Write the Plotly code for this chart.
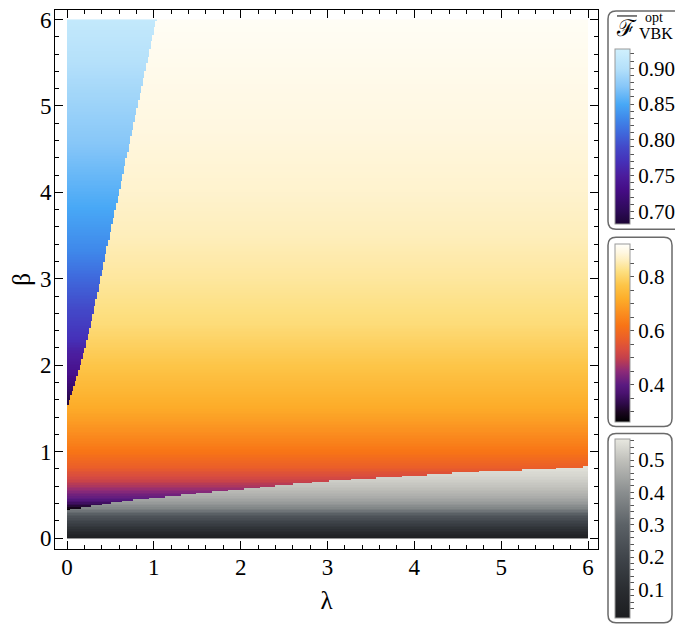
import numpy as np
import plotly.graph_objects as go

# boundary of the upper-left (blue) region: lambda reached at each beta
blue_edge_beta = [1.52, 1.78, 2.17, 2.55, 3.0, 3.5, 4.0, 4.55, 5.31, 6.0]
blue_edge_lam = [0.0, 0.09, 0.20, 0.29, 0.385, 0.49, 0.60, 0.715, 0.88, 1.03]

# boundary of the bottom (gray) region: beta reached at each lambda
gray_edge_lam = [0.0, 0.71, 1.51, 2.30, 3.09, 3.89, 4.68, 5.47, 6.0]
gray_edge_beta = [0.33, 0.44, 0.52, 0.60, 0.67, 0.72, 0.77, 0.80, 0.83]

# fidelity profiles along beta
beta_blue = [1.52, 1.56, 1.71, 1.90, 2.17, 2.30, 2.55, 3.0, 3.32, 3.82, 4.55, 5.31, 6.0]
f_blue = [0.685, 0.69, 0.71, 0.735, 0.755, 0.77, 0.785, 0.81, 0.83, 0.85, 0.875, 0.895, 0.915]

beta_mid = [0.30, 0.34, 0.38, 0.46, 0.55, 0.67, 0.82, 1.0, 1.24, 1.5, 2.0, 2.5, 3.0, 3.5, 4.0, 5.0, 6.0]
f_mid = [0.265, 0.27, 0.33, 0.40, 0.45, 0.51, 0.57, 0.62, 0.67, 0.715, 0.77, 0.815, 0.84, 0.86, 0.875, 0.895, 0.915]

beta_gray = [0.0, 0.05, 0.1, 0.15, 0.2, 0.25, 0.3, 0.35, 0.4, 0.5, 0.6, 0.7, 0.8, 0.86]
f_gray = [0.02, 0.06, 0.11, 0.16, 0.20, 0.25, 0.32, 0.38, 0.42, 0.47, 0.505, 0.53, 0.55, 0.56]

x_ticks = [0, 1, 2, 3, 4, 5, 6]
y_ticks = [0, 1, 2, 3, 4, 5, 6]

cb_blue_major = [0.70, 0.75, 0.80, 0.85, 0.90]
cb_mid_major = [0.4, 0.6, 0.8]
cb_gray_major = [0.1, 0.2, 0.3, 0.4, 0.5]

BLUE_SCALE = [
    (0.683, "#1c0535"), (0.70, "#2c0a55"), (0.73, "#450c85"), (0.75, "#4b1c9c"),
    (0.77, "#4530b8"), (0.79, "#4348c8"), (0.81, "#3f68dc"), (0.83, "#3f88ea"),
    (0.85, "#48a8f6"), (0.875, "#86c6f8"), (0.90, "#b4e0fa"), (0.9275, "#d0f0fd"),
]
SUNSET_SCALE = [
    (0.263, "#000000"), (0.30, "#1a0620"), (0.33, "#2e0a48"), (0.37, "#4a1270"),
    (0.40, "#5a1a80"), (0.45, "#8c2a78"), (0.50, "#c4404c"), (0.53, "#d84c40"),
    (0.57, "#ea5e2a"), (0.62, "#f87416"), (0.67, "#fb9020"), (0.72, "#fdae2a"),
    (0.77, "#fdc548"), (0.82, "#fddf80"), (0.86, "#feeebb"), (0.89, "#fff7e0"),
    (0.922, "#fffffb"),
]
GRAY_SCALE = [
    (0.011, "#1c1d20"), (0.1, "#2a2d31"), (0.2, "#40454b"), (0.3, "#5c6267"),
    (0.4, "#8a8e8f"), (0.5, "#c0c0bb"), (0.565, "#e8e8e0"),
]


def norm_scale(stops):
    lo, hi = stops[0][0], stops[-1][0]
    return [[(v - lo) / (hi - lo), c] for v, c in stops], lo, hi


# the page body has an 8px margin, so positions below are screen pixels
OFF = 8
PL, PR, PT, PB = 55, 598, OFF, 549
W, H = PR - PL, PB - PT


def px_x(px):
    return (px - PL) / W


def px_y(py):
    return (PB - py) / H


def rounded_box(x0, y0, x1, y1, r=8):
    a, b, c, d = px_x(x0), px_y(y0), px_x(x1), px_y(y1)
    rx, ry = r / W, r / H
    return (
        f"M{a + rx},{b} L{c - rx},{b} Q{c},{b} {c},{b - ry} "
        f"L{c},{d + ry} Q{c},{d} {c - rx},{d} L{a + rx},{d} "
        f"Q{a},{d} {a},{d + ry} L{a},{b - ry} Q{a},{b} {a + rx},{b} Z"
    )


n = 330
lam = (np.arange(n) + 0.5) * 6 / n
beta = (np.arange(n) + 0.5) * 6 / n
L, B = np.meshgrid(lam, beta)
low_edge = np.interp(lam, gray_edge_lam, gray_edge_beta)[None, :]
blue_edge = np.interp(beta, blue_edge_beta, blue_edge_lam)[:, None]
in_gray = B < low_edge
in_blue = (B >= blue_edge_beta[0]) & (L < blue_edge)
in_mid = ~in_gray & ~in_blue

z_blue = np.round(np.where(in_blue, np.interp(B, beta_blue, f_blue), np.nan), 4)
z_mid = np.round(np.where(in_mid, np.interp(B, beta_mid, f_mid), np.nan), 4)
z_gray = np.round(np.where(in_gray, np.interp(B, beta_gray, f_gray), np.nan), 4)

SERIF = "Liberation Serif"


def ticks_for(major, step, fmt):
    lo, hi = major[0] - 3 * step, major[-1] + 3 * step
    vals, texts = [], []
    for k in range(int(round(lo / step)), int(round(hi / step)) + 1):
        v = round(k * step, 4)
        vals.append(v)
        texts.append(fmt.format(v) if any(abs(v - m) < 1e-9 for m in major) else "")
    return dict(tickvals=vals, ticktext=texts)


def colorbar(y_top, y_bot, major, minor_step, fmt):
    return dict(
        thickness=15,
        len=y_bot - y_top,
        lenmode="pixels",
        x=px_x(615),
        xanchor="left",
        xpad=0,
        y=px_y((y_top + y_bot) / 2),
        yanchor="middle",
        ypad=0,
        outlinewidth=1,
        outlinecolor="#9a9a9a",
        ticks="outside",
        ticklen=4,
        tickcolor="#555555",
        tickfont=dict(family=SERIF, size=21, color="black"),
        tickmode="array",
        **ticks_for(major, minor_step, fmt),
    )


fig = go.Figure()
for z, stops, cb in [
    (z_gray, GRAY_SCALE, colorbar(439, 618, cb_gray_major, 0.02, "{:.1f}")),
    (z_mid, SUNSET_SCALE, colorbar(243, 421, cb_mid_major, 0.05, "{:.1f}")),
    (z_blue, BLUE_SCALE, colorbar(47, 222, cb_blue_major, 0.01, "{:.2f}")),
]:
    cs, lo, hi = norm_scale(stops)
    fig.add_trace(
        go.Heatmap(
            x=lam, y=beta, z=z, colorscale=cs, zmin=lo, zmax=hi,
            colorbar=cb, hoverinfo="skip",
        )
    )

axis_common = dict(
    showline=True, linecolor="black", linewidth=1, mirror="allticks",
    ticks="inside", ticklen=8, tickwidth=1, tickcolor="black",
    minor=dict(dtick=0.2, ticklen=4, tickcolor="black", ticks="inside"),
    showgrid=False, zeroline=False, tickmode="array", ticklabeloverflow="allow",
    tickfont=dict(family=SERIF, size=23, color="black"),
    title_font=dict(family=SERIF, size=25, color="black"),
)
# beta = 6 sits at screen y 17.5, lambda = 0 at screen x 67
fig.update_xaxes(
    range=[-(67 - PL) / 86.8, 6 + (PR - 588) / 86.8], tickvals=x_ticks,
    title_text="λ", title_standoff=12, ticklabelstandoff=-3, **axis_common,
)
fig.update_yaxes(
    range=[-(PB - 538) / 86.8, 6 + (17.5 - PT) / 86.8], tickvals=y_ticks,
    title_text="β", title_standoff=8, ticklabelstandoff=-2, **axis_common,
)

box_line = dict(color="#6a6a6a", width=1.5)
shapes = [
    dict(type="path", path=rounded_box(608, 9, 682, 228), xref="paper", yref="paper", line=box_line),
    dict(type="path", path=rounded_box(608, 236, 672, 426), xref="paper", yref="paper", line=box_line),
    dict(type="path", path=rounded_box(608, 433, 672, 623), xref="paper", yref="paper", line=box_line),
    dict(type="line", x0=px_x(617), x1=px_x(637), y0=px_y(14), y1=px_y(14),
         xref="paper", yref="paper", line=dict(color="black", width=1)),
]

ann_common = dict(xref="paper", yref="paper", showarrow=False, xanchor="center", yanchor="middle")
annotations = [
    dict(text="ℱ", x=px_x(626), y=px_y(27), font=dict(family=SERIF, size=23, color="black"), **ann_common),
    dict(text="opt", x=px_x(654), y=px_y(16), font=dict(family=SERIF, size=14, color="black"), **ann_common),
    dict(text="VBK", x=px_x(656), y=px_y(32), font=dict(family=SERIF, size=16, color="black"), **ann_common),
]

fig.update_layout(
    width=683, height=627,
    margin=dict(l=PL - OFF, r=683 - (PR - OFF), t=PT - OFF, b=627 - (PB - OFF)),
    paper_bgcolor="white", plot_bgcolor="white",
    shapes=shapes, annotations=annotations, showlegend=False,
)
fig.write_html("out.html")
